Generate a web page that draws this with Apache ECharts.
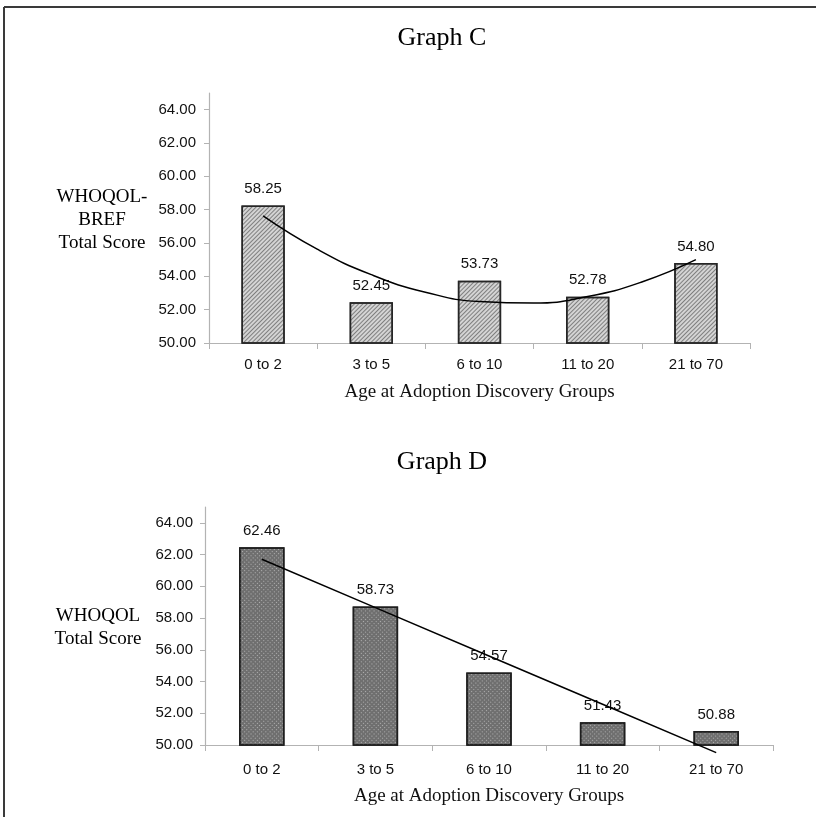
<!DOCTYPE html>
<html>
<head>
<meta charset="utf-8">
<script src="https://cdn.jsdelivr.net/npm/echarts@6/dist/echarts.min.js"></script>
<style>
html,body{margin:0;padding:0;background:#fff;}
#chart{width:816px;height:817px;}
</style>
</head>
<body>
<div id="chart"></div>
<script>
// ---- Data ----
const categories = ['0 to 2', '3 to 5', '6 to 10', '11 to 20', '21 to 70'];
const valuesC = [58.25, 52.45, 53.73, 52.78, 54.80];
const valuesD = [62.46, 58.73, 54.57, 51.43, 50.88];
// trendline values (positions in category units, 0 = first category)
const trendCPos = [0, 0.5, 1, 1.5, 2, 2.5, 3, 3.5, 4];
const trendCVal = [57.63, 55.63, 54.10, 53.05, 52.49, 52.40, 52.79, 53.66, 55.00]; // polynomial trendline
const trendD = [61.71, 58.66, 55.61, 52.57, 49.52];   // linear trendline
const yTicks = [50, 52, 54, 56, 58, 60, 62, 64];

const titleC = 'Graph C';
const titleD = 'Graph D';
const yNameC = 'WHOQOL-\nBREF\nTotal Score';
const yNameD = 'WHOQOL\nTotal Score';
const xName = 'Age at Adoption Discovery Groups';

const serif = '"Liberation Serif", "Times New Roman", serif';
const sans = '"Liberation Sans", Arial, sans-serif';

const chart = echarts.init(document.getElementById('chart'), null, {renderer: 'canvas'});

function xAxisCfg(gridIndex, labelMargin, nameGap) {
  return {
    type: 'category', gridIndex, data: categories, boundaryGap: true,
    axisLine: {show: true, lineStyle: {color: '#b3b3b3', width: 1.2}},
    axisTick: {show: true, alignWithLabel: false, length: 6, lineStyle: {color: '#b3b3b3'}},
    axisLabel: {color: '#111', fontFamily: sans, fontSize: 15, margin: labelMargin},
    name: xName, nameLocation: 'middle', nameGap: nameGap,
    nameTextStyle: {color: '#111', fontFamily: serif, fontSize: 19}
  };
}
function yAxisCfg(gridIndex, labelMargin) {
  return {
    type: 'value', gridIndex, min: 50, max: 65, interval: 1,
    splitLine: {show: false},
    axisLine: {show: true, onZero: false, lineStyle: {color: '#b3b3b3', width: 1.2}},
    axisTick: {show: true, length: 5, lineStyle: {color: '#b3b3b3'}, customValues: yTicks},
    axisLabel: {color: '#111', fontFamily: sans, fontSize: 15, margin: labelMargin,
      customValues: yTicks, formatter: v => v.toFixed(2)}
  };
}

const option = {
  animation: false,
  backgroundColor: '#fff',
  aria: {enabled: true, decal: {show: true}},
  grid: [
    {left: 209, right: 66, top: 93, bottom: 474},
    {left: 205, right: 43, top: 507, bottom: 72}
  ],
  xAxis: [
    xAxisCfg(0, 14, 40),
    xAxisCfg(1, 17, 42),
    {type: 'value', gridIndex: 0, min: -0.5, max: 4.5, show: false, axisLine: {onZero: false}}
  ],
  yAxis: [yAxisCfg(0, 13), yAxisCfg(1, 12)],
  graphic: [
    {type: 'line', shape: {x1: 4, y1: 7, x2: 816, y2: 7}, style: {stroke: '#3a3a3a', lineWidth: 2}},
    {type: 'line', shape: {x1: 4, y1: 7, x2: 4, y2: 817}, style: {stroke: '#3a3a3a', lineWidth: 2}},
    {type: 'text', x: 442, y: 38, style: {text: titleC, font: '26px ' + serif, fill: '#000', align: 'center', verticalAlign: 'middle'}},
    {type: 'text', x: 442, y: 462, style: {text: titleD, font: '26px ' + serif, fill: '#000', align: 'center', verticalAlign: 'middle'}},
    {type: 'text', x: 102, y: 220, style: {text: yNameC, font: '19px ' + serif, lineHeight: 23, fill: '#000', align: 'center', verticalAlign: 'middle'}},
    {type: 'text', x: 98, y: 628, style: {text: yNameD, font: '19px ' + serif, lineHeight: 23, fill: '#000', align: 'center', verticalAlign: 'middle'}}
  ],
  series: [
    {
      type: 'bar', xAxisIndex: 0, yAxisIndex: 0, data: valuesC, barWidth: '40%',
      itemStyle: {
        color: '#d4d4d4', borderColor: '#262626', borderWidth: 1.5,
        decal: {symbol: 'rect', color: 'rgba(70,70,70,0.6)', dashArrayX: [1, 0], dashArrayY: [1, 1.5], rotation: -Math.PI / 4, symbolSize: 1}
      },
      label: {show: true, position: 'top', distance: 9, color: '#111', fontFamily: sans, fontSize: 15, formatter: p => p.value.toFixed(2)}
    },
    {
      type: 'line', xAxisIndex: 2, yAxisIndex: 0,
      data: trendCPos.map((x, i) => [x, trendCVal[i]]), smooth: 0.5, smoothMonotone: 'none',
      showSymbol: false, symbol: 'none',
      lineStyle: {color: '#000', width: 1.5}, clip: false, z: 5
    },
    {
      type: 'bar', xAxisIndex: 1, yAxisIndex: 1, data: valuesD, barWidth: '40%',
      itemStyle: {
        color: '#6f6f6f', borderColor: '#1e1e1e', borderWidth: 1.5,
        decal: {symbol: 'rect', color: 'rgba(255,255,255,0.45)', dashArrayX: [[1, 2]], dashArrayY: [1, 2], symbolSize: 1}
      },
      label: {show: true, position: 'top', distance: 9, color: '#111', fontFamily: sans, fontSize: 15, formatter: p => p.value.toFixed(2)}
    },
    {
      type: 'line', xAxisIndex: 1, yAxisIndex: 1, data: trendD, showSymbol: false, symbol: 'none',
      lineStyle: {color: '#000', width: 1.5}, clip: false, z: 5
    }
  ]
};
chart.setOption(option);
</script>
</body>
</html>
